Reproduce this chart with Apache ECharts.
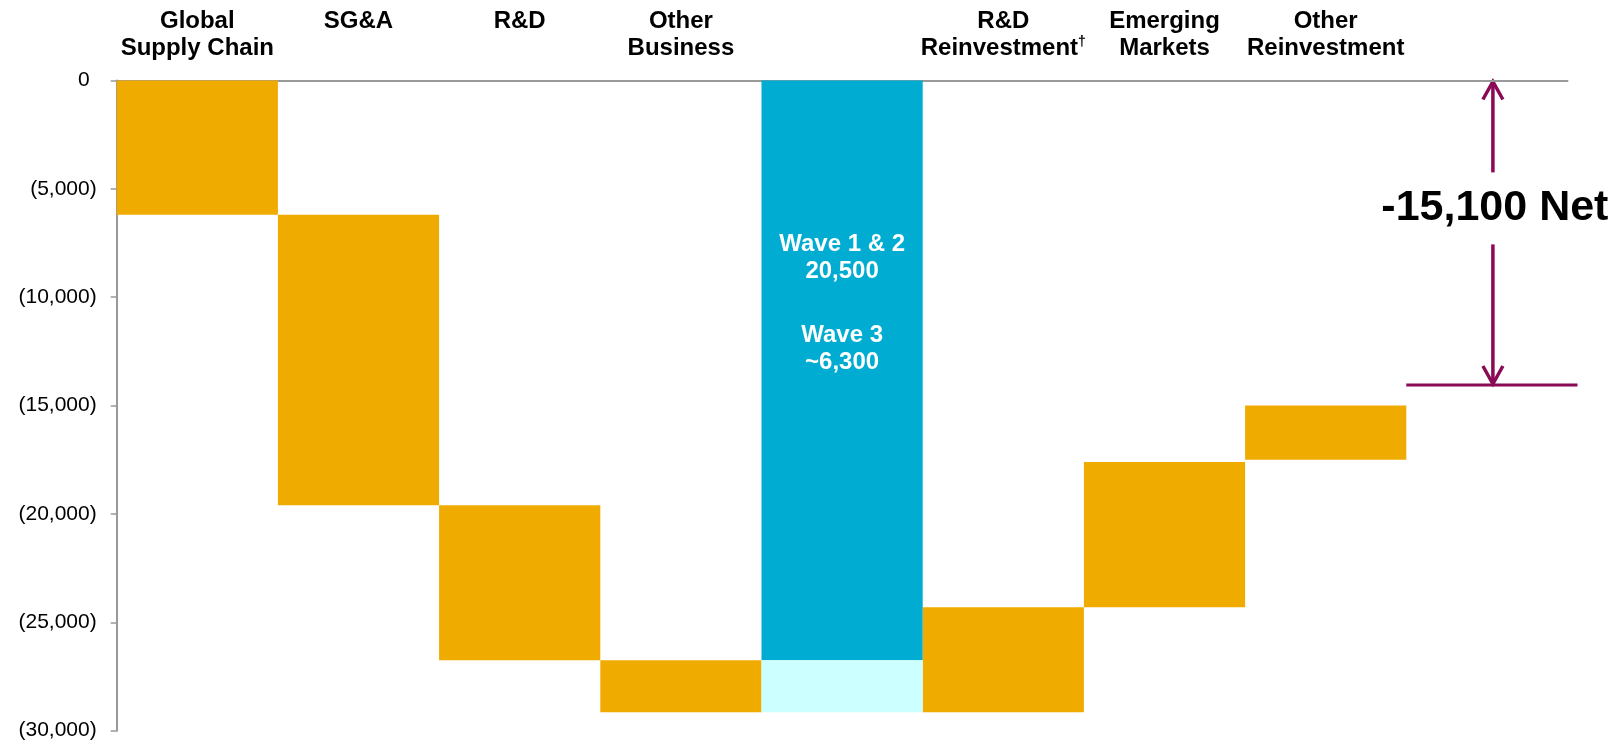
<!DOCTYPE html>
<html><head><meta charset="utf-8">
<script src="https://cdn.jsdelivr.net/npm/echarts@6/dist/echarts.min.js"></script>
<style>html,body{margin:0;padding:0;background:#fff}#c{width:1617px;height:744px}</style>
</head><body><div id="c"></div>
<script>
// ---- data ----
const categories = ['Global\nSupply Chain', 'SG&A', 'R&D', 'Other\nBusiness', '', 'R&D\nReinvestment{sup|†}', 'Emerging\nMarkets', 'Other\nReinvestment', ' '];
// waterfall steps: level at top and bottom of each orange block (0 where no block)
const stepTop    = [0, -6200, -19600, -26750, 0, -24300, -17600, -15000, 0];
const stepBottom = [-6200, -19600, -26750, -29150, 0, -29150, -24300, -17500, 0];
// total column (index 4): Wave 1 & 2 block and Wave 3 block
const totalIndex = 4;
const wave12Level = -26750;
const wave3Level = -29150;
const waveLabels = ['Wave 1 & 2', '20,500', 'Wave 3', '~6,300'];
// net annotation
const netLevel = -14050;
const netLabel = '-15,100 Net';
const yMin = -30000, yMax = 0, yStep = 5000;

// ---- derived series ----
const baseData = stepTop.slice();
const changeData = stepTop.map((t, i) => stepBottom[i] - t);
const wave12Data = categories.map((c, i) => i === totalIndex ? wave12Level : 0);
const wave3Data = categories.map((c, i) => i === totalIndex ? wave3Level - wave12Level : 0);

const FONT = "'Liberation Sans', Arial, Helvetica, sans-serif";
const PURPLE = '#8A0A55';
const chart = echarts.init(document.getElementById('c'), null, {renderer: 'canvas'});

chart.setOption({
  animation: false,
  backgroundColor: '#ffffff',
  grid: {left: 116.7, right: 49.5, top: 80.5, bottom: 13.3, containLabel: false, outerBoundsMode: 'none'},
  xAxis: {
    type: 'category', position: 'top', data: categories,
    axisLine: {show: true, onZero: false, lineStyle: {color: '#999999', width: 2}},
    axisTick: {show: false},
    splitLine: {show: false},
    axisLabel: {
      interval: 0, color: '#000', fontFamily: FONT, fontWeight: 'bold', fontSize: 24,
      lineHeight: 27, verticalAlign: 'top', margin: 72.5,
      rich: {sup: {fontFamily: FONT, fontWeight: 'bold', fontSize: 14, color: '#000', verticalAlign: 'top', lineHeight: 27, padding: [0, 0, 10, 0]}}
    }
  },
  yAxis: {
    type: 'value', min: yMin, max: yMax, interval: yStep,
    axisLine: {show: true, onZero: false, lineStyle: {color: '#999999', width: 2}},
    axisTick: {show: true, length: 6, lineStyle: {color: '#999999', width: 1.5}},
    splitLine: {show: false},
    axisLabel: {
      color: '#000', fontFamily: FONT, fontSize: 21, margin: 20,
      formatter: v => v === 0 ? '0{h|)}' : '(' + Math.abs(v).toLocaleString('en-US') + ')',
      rich: {h: {color: 'rgba(0,0,0,0)', fontFamily: FONT, fontSize: 21}}
    }
  },
  series: [
    {type: 'bar', stack: 'w', data: baseData, barCategoryGap: '0%', silent: true,
     itemStyle: {color: 'rgba(0,0,0,0)'}, emphasis: {disabled: true}},
    {type: 'bar', stack: 'w', data: changeData, barCategoryGap: '0%',
     itemStyle: {color: '#EFAB00'}},
    {type: 'bar', stack: 'w', data: wave12Data, barCategoryGap: '0%',
     itemStyle: {color: '#00ACD1'},
     label: {
       show: true,
       formatter: p => p.dataIndex === totalIndex ?
         '{a|' + waveLabels[0] + '}\n{a|' + waveLabels[1] + '}\n{g| }\n{a|' + waveLabels[2] + '}\n{a|' + waveLabels[3] + '}' : '',
       position: ['50%', 150], align: 'center', verticalAlign: 'top',
       rich: {
         a: {color: '#fff', fontFamily: FONT, fontWeight: 'bold', fontSize: 24, lineHeight: 27, align: 'center'},
         g: {fontSize: 10, lineHeight: 37}
       }
     }},
    {type: 'bar', stack: 'w', data: wave3Data, barCategoryGap: '0%',
     itemStyle: {color: '#CCFFFF'}}
  ]
});

// ---- net annotation placed through the axes' scales ----
const xa = chart.convertToPixel({xAxisIndex: 0}, 8);
const xb = chart.convertToPixel({xAxisIndex: 0}, 7);
const band = xa - xb;
const yTop = chart.convertToPixel({yAxisIndex: 0}, yMax);
const yNet = chart.convertToPixel({yAxisIndex: 0}, netLevel);
const ax = xa + 6;
const yText = yTop + (yNet - yTop) * 0.42;
const gap = 36;
const ls = {stroke: PURPLE, lineWidth: 3.5, fill: null};
chart.setOption({
  graphic: [
    {type: 'line', shape: {x1: xa - band / 2, y1: yNet, x2: xa + band / 2 + 10, y2: yNet}, style: {stroke: PURPLE, lineWidth: 3}},
    {type: 'line', shape: {x1: ax, y1: yTop + 1, x2: ax, y2: yText - gap}, style: ls},
    {type: 'line', shape: {x1: ax, y1: yText + gap, x2: ax, y2: yNet - 1}, style: ls},
    {type: 'polyline', shape: {points: [[ax - 10, yTop + 19], [ax, yTop + 1], [ax + 10, yTop + 19]]}, style: ls},
    {type: 'polyline', shape: {points: [[ax - 10, yNet - 19], [ax, yNet - 1], [ax + 10, yNet - 19]]}, style: ls},
    {type: 'text', x: ax + 2, y: yText, style: {text: netLabel, fill: '#000', font: 'bold 43px ' + FONT, align: 'center', verticalAlign: 'middle', textAlign: 'center', textVerticalAlign: 'middle'}}
  ]
});
</script></body></html>
